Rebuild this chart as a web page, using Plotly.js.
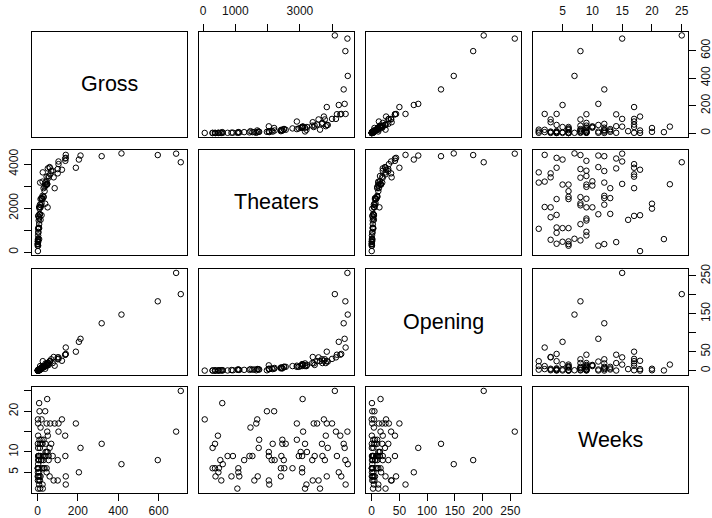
<!DOCTYPE html>
<html><head><meta charset="utf-8">
<script src="https://cdn.plot.ly/plotly-3.0.1.min.js"></script>
<style>html,body{margin:0;padding:0;background:#fff}#chart{width:712px;height:518px}</style>
</head><body><div id="chart"></div>
<script>
const varNames = ['Gross', 'Theaters', 'Opening', 'Weeks'];

const weeks = [1,1,1, 2,2,2, 3,3,3,3,3, 4,4,4,4,4,4,4, 5,5,5,5, 6,6,6,6,6,6,6,6, 7,7,
  8,8,8,8,8,8,8,8, 9,9,9,9,9,9,9,9,9,9,9, 10,10,10, 11,11,11,11, 12,12,12,12,12,12,12,
  13,13,13, 14,14,14, 15,15,15, 16, 17,17,17,17,17,17, 18,18,18, 20,20, 22, 23, 25];
const theaters = [3624,3160,1062, 4418,3204,2052, 3579,3399,2037,1588,564,
  4283,3834,2411,1693,1122,879,384, 4206,3070,1092,474,
  3070,2771,2516,2411,1092,489,369,294, 4485,609,
  4410,3774,3384,2501,2217,2127,1273,534,
  4148,3699,3459,3070,2966,2426,2037,1528,1438,924,759,
  3219,3025,2037, 4388,3864,1723,294, 4358,3684,3160,2561,2456,2157,369,
  2906,2456,1738, 4253,3804,459, 4474,4118,3100, 1468,
  3998,3834,3534,3429,2906,1648, 3744,1678,50, 2202,1978, 594, 3085, 4084];
const gross = [26,13,3, 140,25,8, 100,80,12,8,2,
  140,60,15,10,5,4,1, 205,45,8,2,
  45,35,30,22,6,2,2,1, 416,3,
  596,100,55,30,20,18,8,3,
  138,75,55,40,35,25,15,8,6,4,3,
  45,40,50, 213,60,12,3, 318,68,40,25,20,12,2,
  30,20,10, 137,51,3, 687,104,48, 15,
  104,190,63,45,85,3, 121,20,2, 38,10, 8, 48, 710];
const opening = [25,12,2.5, 61,12,4, 35,36,5,3,1,
  44,25,6,4,2,1.5,0.3, 76,17,3,0.5,
  16,12,10,8,2,0.5,0.4,0.3, 148,1,
  183,30,20,10,7,6,2,0.6,
  42,20,15,12,10,8,4,2.5,2,1,0.5,
  15,12,14, 84,24,3,0.4, 125,30,19,10,7,4,0.3,
  10,6,3, 42,20,0.3, 258,35,16, 4,
  31,50,25,19,13,1, 26,4,0.1, 5,1, 0.5, 16, 202];

const grossTicks = [0, 200, 400, 600];
const theaterTicks = [0, 1000, 2000, 3000, 4000];
const theaterTopLabels = ['0', '1000', '', '3000', ''];
const theaterLeftLabels = ['0', '', '2000', '', '4000'];
const openingTicks = [0, 50, 100, 150, 200, 250];
const openingBottomLabels = ['0', '50', '100', '150', '200', '250'];
const openingRightLabels = ['0', '50', '', '150', '', '250'];
const weekTicks = [5, 10, 15, 20, 25];
const weekTopLabels = ['5', '10', '15', '20', '25'];
const weekLeftLabels = ['5', '10', '', '20', ''];

const series = [gross, theaters, opening, weeks];

const W = 712, H = 518;
const colLeft = [32, 199, 366, 533], colW = 154.5;
const rowTop = [31.5, 149.5, 269, 387], rowH = 105.5;

function padRange(a) {
  const mn = Math.min(...a), mx = Math.max(...a), d = (mx - mn) * 0.04;
  return [mn - d, mx + d];
}
const ranges = series.map(padRange);

const tickSpec = {
  x: {
    '0,1': {vals: theaterTicks, text: theaterTopLabels, side: 'top', pad: 4},
    '0,3': {vals: weekTicks, text: weekTopLabels, side: 'top', pad: 4},
    '3,0': {vals: grossTicks, text: grossTicks.map(String), side: 'bottom', pad: 0},
    '3,2': {vals: openingTicks, text: openingBottomLabels, side: 'bottom', pad: 0}
  },
  y: {
    '1,0': {vals: theaterTicks, text: theaterLeftLabels, side: 'left', pad: 1},
    '3,0': {vals: weekTicks, text: weekLeftLabels, side: 'left', pad: 1},
    '0,3': {vals: grossTicks, text: grossTicks.map(String), side: 'right', pad: 0},
    '2,3': {vals: openingTicks, text: openingRightLabels, side: 'right', pad: 0}
  }
};

const font = {family: 'Liberation Sans, Arial, sans-serif', size: 12, color: '#111'};
const layout = {
  width: W, height: H, margin: {l: 0, r: 0, t: 0, b: 0},
  paper_bgcolor: '#fff', plot_bgcolor: '#fff', showlegend: false,
  font: font, annotations: []
};
const traces = [];

for (let i = 0; i < 4; i++) {
  for (let j = 0; j < 4; j++) {
    const k = i * 4 + j + 1;
    const xa = 'xaxis' + (k === 1 ? '' : k), ya = 'yaxis' + (k === 1 ? '' : k);
    const xr = 'x' + (k === 1 ? '' : k), yr = 'y' + (k === 1 ? '' : k);
    const xd = [colLeft[j] / W, (colLeft[j] + colW) / W];
    const yd = [1 - (rowTop[i] + rowH) / H, 1 - rowTop[i] / H];
    const base = {
      showline: true, mirror: true, linecolor: '#000', linewidth: 1,
      showgrid: false, zeroline: false, fixedrange: true
    };
    const xs = tickSpec.x[i + ',' + j], ys = tickSpec.y[i + ',' + j];
    layout[xa] = Object.assign({}, base, {
      domain: xd, anchor: yr, range: ranges[j],
      tickmode: 'array', tickvals: xs ? xs.vals : [], ticktext: xs ? xs.text : [],
      ticks: xs ? 'outside' : '', ticklen: 7, tickcolor: '#000', tickwidth: 1,
      ticklabelstandoff: xs ? xs.pad : 0,
      showticklabels: !!xs, side: xs ? xs.side : 'bottom', tickfont: font
    });
    layout[ya] = Object.assign({}, base, {
      domain: yd, anchor: xr, range: ranges[i],
      tickmode: 'array', tickvals: ys ? ys.vals : [], ticktext: ys ? ys.text : [],
      ticks: ys ? 'outside' : '', ticklen: 7, tickcolor: '#000', tickwidth: 1,
      ticklabelstandoff: ys ? ys.pad : 0,
      showticklabels: !!ys, side: ys ? ys.side : 'left', tickangle: -90, tickfont: font
    });
    if (i === j) {
      traces.push({type: 'scatter', x: [], y: [], xaxis: xr, yaxis: yr, hoverinfo: 'skip'});
      layout.annotations.push({
        xref: 'paper', yref: 'paper',
        x: (xd[0] + xd[1]) / 2, y: (yd[0] + yd[1]) / 2,
        xanchor: 'center', yanchor: 'middle', showarrow: false,
        text: varNames[i], font: {family: 'Liberation Sans, Arial, sans-serif', size: 21.5, color: '#000'}
      });
    } else {
      traces.push({
        type: 'scatter', mode: 'markers', x: series[j], y: series[i],
        xaxis: xr, yaxis: yr, cliponaxis: false,
        marker: {symbol: 'circle-open', size: 5.5, color: '#000', line: {width: 1, color: '#000'}},
        hoverinfo: 'skip'
      });
    }
  }
}

Plotly.newPlot('chart', traces, layout, {staticPlot: true, displayModeBar: false});
</script>
</body></html>
